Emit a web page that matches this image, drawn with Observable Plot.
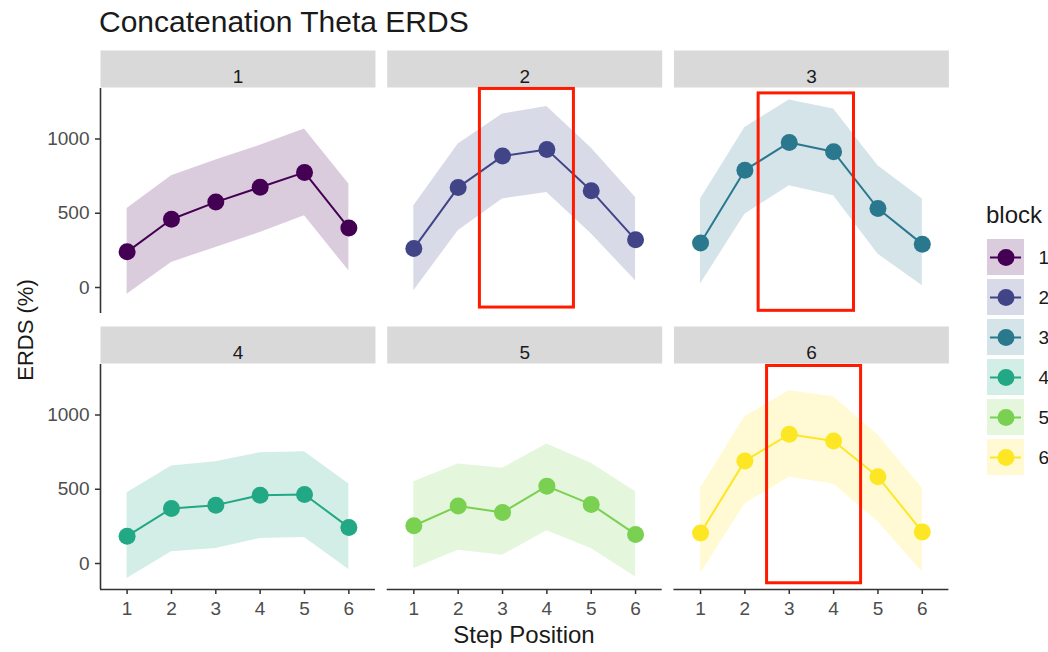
<!DOCTYPE html>
<html>
<head>
<meta charset="utf-8">
<script src="https://cdn.jsdelivr.net/npm/d3@7"></script>
<script src="https://cdn.jsdelivr.net/npm/@observablehq/plot@0.6"></script>
<style>
  body { margin: 0; background: #fff; font-family: "Liberation Sans", Arial, sans-serif; }
  #wrap { position: relative; width: 1048px; height: 652px; overflow: hidden; }
  #title { height: 44px; line-height: 44px; font-size: 30px; color: #1a1a1a; padding-left: 99px; white-space: nowrap; }
  #legendTitle { position: absolute; left: 986px; top: 203px; font-size: 24px; line-height: 24px; color: #1a1a1a; }
  #legend { position: absolute; left: 985px; top: 237px; }
</style>
</head>
<body>
<div id="wrap">
  <div id="title">Concatenation Theta ERDS</div>
  <div id="chart"></div>
  <div id="legendTitle">block</div>
  <div id="legend"></div>
</div>
<script>
// ---- data ----
const blocks = [1, 2, 3, 4, 5, 6];
const steps = [1, 2, 3, 4, 5, 6];
const blockColors = ["#440154", "#414487", "#2A788E", "#22A884", "#7AD151", "#FDE725"];

const erdsMean = [
  [240, 460, 575, 675, 775, 400],
  [263, 674, 885, 930, 652, 321],
  [299, 790, 977, 914, 532, 292],
  [184, 371, 393, 460, 465, 243],
  [254, 387, 344, 521, 398, 196],
  [206, 691, 870, 825, 584, 213]
];
const erdsUpper = [
  [532, 753, 858, 958, 1067, 697],
  [551, 966, 1168, 1218, 940, 606],
  [596, 1078, 1263, 1202, 820, 596],
  [476, 656, 685, 746, 753, 535],
  [551, 670, 641, 805, 675, 483],
  [506, 989, 1164, 1123, 865, 506]
];
const erdsLower = [
  [-45, 169, 270, 371, 483, 112],
  [-22, 382, 596, 640, 362, 45],
  [23, 494, 685, 618, 225, 11],
  [-101, 79, 101, 169, 175, -40],
  [-34, 90, 56, 220, 101, -90],
  [-67, 400, 580, 535, 281, -57]
];

const yTicks = [0, 500, 1000];
const xDomain = [0.4, 6.6];
const yDomain = [-175, 1340];

// highlighted regions (red boxes) in data units
const boxBlocks = [2, 3, 6];
const boxX1 = [2.49, 2.31, 2.5];
const boxX2 = [4.61, 4.46, 4.62];
const boxYTop = [1337, 1307, 1330];
const boxYBottom = [-135, -157, -133];

// ---- tables built from the arrays ----
const colOf = b => (b - 1) % 3 + 1;
const rowOf = b => Math.floor((b - 1) / 3) + 1;

const rows = [];
blocks.forEach((b, i) => steps.forEach((s, j) => rows.push({
  block: b, col: colOf(b), row: rowOf(b), step: s,
  mean: erdsMean[i][j], lower: erdsLower[i][j], upper: erdsUpper[i][j]
})));
const panels = blocks.map(b => ({block: b, col: colOf(b), row: rowOf(b)}));
const leftPanels = panels.filter(p => p.col === 1);
const bottomPanels = panels.filter(p => p.row === 2);
const boxes = boxBlocks.map((b, k) => ({
  block: b, col: colOf(b), row: rowOf(b),
  x1: boxX1[k], x2: boxX2[k], y1: boxYBottom[k], y2: boxYTop[k]
}));

const font = "'Liberation Sans', Arial, sans-serif";
const colorScale = {type: "ordinal", domain: blocks, range: blockColors};

const chart = Plot.plot({
  width: 960,
  height: 608,
  marginLeft: 100,
  marginRight: 11.6,
  marginTop: 44,
  marginBottom: 63,
  style: {fontFamily: font, fontSize: "19px", color: "#4d4d4d", background: "white", overflow: "visible"},
  fx: {axis: null, domain: [1, 2, 3], paddingInner: 0.041, paddingOuter: 0, round: false},
  fy: {axis: null, domain: [1, 2], paddingInner: 0.1848, paddingOuter: 0, round: false},
  x: {domain: xDomain},
  y: {domain: yDomain},
  color: colorScale,
  marks: [
    Plot.frame({fill: "#d9d9d9", stroke: "none", insetTop: -38, insetBottom: 226}),
    Plot.text(panels, {fx: "col", fy: "row", text: d => String(d.block), frameAnchor: "top", dy: -19.5, fill: "#1a1a1a", fontSize: 19}),
    Plot.areaY(rows, {fx: "col", fy: "row", x: "step", y1: "lower", y2: "upper", z: "block", fill: "block", fillOpacity: 0.2}),
    Plot.line(rows, {fx: "col", fy: "row", x: "step", y: "mean", z: "block", stroke: "block", strokeWidth: 2}),
    Plot.dot(rows, {fx: "col", fy: "row", x: "step", y: "mean", fill: "block", r: 8.5}),
    Plot.rect(boxes, {fx: "col", fy: "row", x1: "x1", x2: "x2", y1: "y1", y2: "y2", fill: "none", stroke: "#ff1a00", strokeWidth: 3}),
    Plot.ruleX(leftPanels, {fx: "col", fy: "row", x: () => xDomain[0], stroke: "#333", strokeWidth: 1.6}),
    Plot.ruleY(bottomPanels, {fx: "col", fy: "row", y: () => yDomain[0], stroke: "#333", strokeWidth: 1.6}),
    Plot.axisY({ticks: yTicks, tickSize: 5, tickPadding: 6, fontSize: 19, stroke: "#333", fill: "#4d4d4d", strokeWidth: 1.5, label: null, tickFormat: d => String(d)}),
    Plot.axisX({ticks: steps, tickSize: 5, tickPadding: 7, fontSize: 19, stroke: "#333", fill: "#4d4d4d", strokeWidth: 1.5, label: null, tickFormat: d => String(d)})
  ]
});

const svg = d3.select(chart);
svg.append("text")
  .attr("transform", "translate(33,286) rotate(-90)")
  .attr("text-anchor", "middle")
  .attr("font-size", 22)
  .attr("font-family", font)
  .attr("fill", "#1a1a1a")
  .text("ERDS (%)");
svg.append("text")
  .attr("x", 524)
  .attr("y", 599)
  .attr("text-anchor", "middle")
  .attr("font-size", 24)
  .attr("font-family", font)
  .attr("fill", "#1a1a1a")
  .text("Step Position");

document.getElementById("chart").appendChild(chart);

const legend = Plot.plot({
  width: 63,
  height: 240,
  marginTop: 0,
  marginBottom: 0,
  marginLeft: 2,
  marginRight: 24,
  style: {fontFamily: font, fontSize: "19px", background: "transparent", overflow: "visible"},
  x: {domain: [0, 1], axis: null},
  y: {type: "band", domain: blocks, paddingInner: 0.1, paddingOuter: 0.05, axis: null},
  color: colorScale,
  marks: [
    Plot.barX(blocks, {x1: () => 0, x2: () => 1, y: d => d, fill: d => d, fillOpacity: 0.2}),
    Plot.ruleY(blocks, {y: d => d, x1: () => 0.08, x2: () => 0.92, stroke: d => d, strokeWidth: 2}),
    Plot.dot(blocks, {x: () => 0.5, y: d => d, fill: d => d, r: 8.5}),
    Plot.text(blocks, {x: () => 1, y: d => d, text: d => String(d), dx: 14, textAnchor: "start", fontSize: 19, fill: "#1a1a1a"})
  ]
});
document.getElementById("legend").appendChild(legend);
</script>
</body>
</html>
